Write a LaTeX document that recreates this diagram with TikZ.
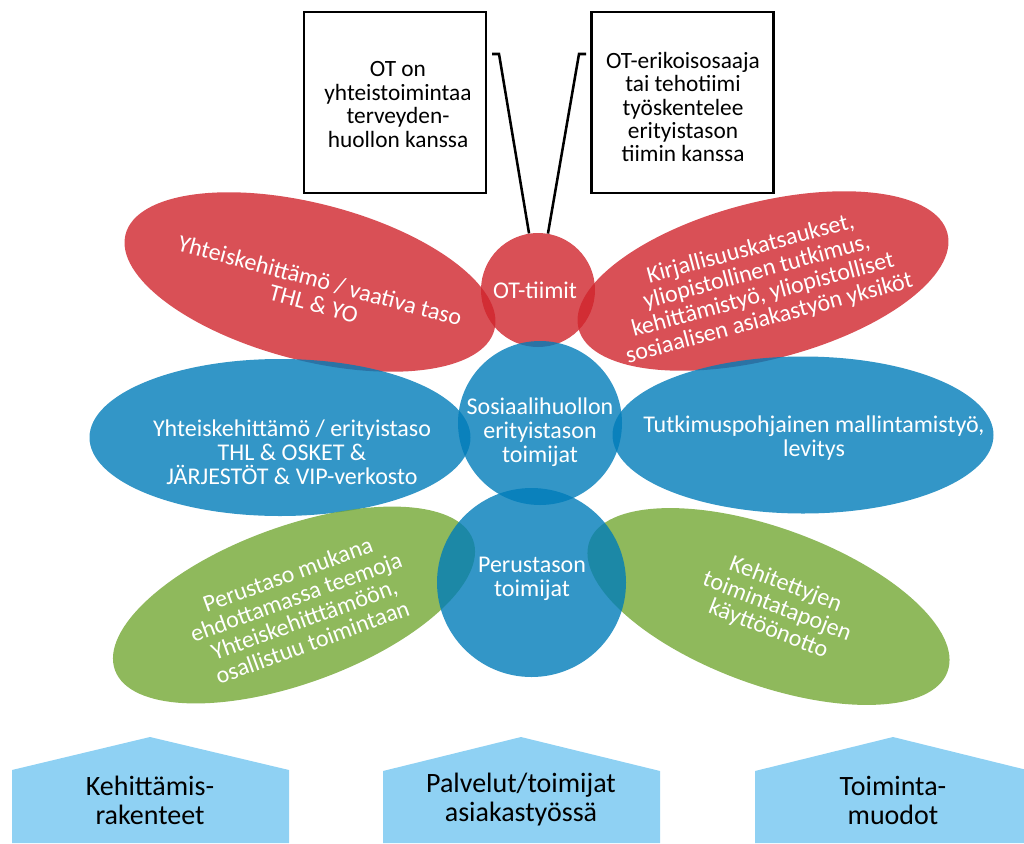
\documentclass[tikz,border=0pt]{standalone}
\usepackage{fontspec}
\setmainfont{Carlito}
\usetikzlibrary{shapes.geometric}

\definecolor{petalred}{RGB}{208,36,44}
\definecolor{petalblue}{RGB}{0,124,185}
\definecolor{petalgreen}{RGB}{115,167,51}
\definecolor{houseblue}{RGB}{143,209,243}

\begin{document}
\begin{tikzpicture}[x=0.75pt,y=-0.75pt,
  petal/.style={ellipse, draw=none, inner sep=0pt,
    minimum width=285.75pt, minimum height=117.75pt, fill opacity=0.8},
  hub/.style={circle, draw=none, inner sep=0pt, fill opacity=0.8},
  petaltext/.style={text=white, align=center, inner sep=0pt,
    font=\fontsize{18}{18}\selectfont},
  notebox/.style={draw=black, line width=1.9pt, fill=white,
    minimum width=136.5pt, minimum height=135.75pt, inner sep=0pt},
  notetext/.style={align=center, inner sep=0pt,
    font=\fontsize{17.5}{17.6}\selectfont},
  antenna/.style={draw=black, line width=1.9pt, line join=miter},
  house/.style={fill=houseblue, draw=none},
  housetext/.style={align=center, inner sep=0pt,
    font=\fontsize{21}{21.75}\selectfont}]

\useasboundingbox (0,0) rectangle (1024,843);
\clip (0,0) rectangle (1024,843);

% note boxes at the top
\node[notebox] (boxL) at (395,102.5) {};
\node[notebox] (boxR) at (682.5,102.5) {};
\node[notetext] (txtL) at (398,104.5) {OT on\\yhteistoimintaa\\terveyden-\\huollon kanssa};
\node[notetext] (txtR) at (683,107) {OT-erikoisosaaja\\tai tehotiimi\\työskentelee\\erityistason\\tiimin kanssa};

% outline of the top circle, used to attach the antennae
\node[circle, inner sep=0pt, minimum size=85.5pt] (ot) at (538,290) {};

% antennae from the boxes down to the top circle
\coordinate (aL0) at (492,54);
\coordinate (aL1) at (499,54);
\coordinate (aR0) at (586,54);
\coordinate (aR1) at (579,54);
\draw[antenna] (aL0) -- (aL1) -- (ot.99);
\draw[antenna] (aR0) -- (aR1) -- (ot.80);

% top circle
\node[hub, fill=petalred, minimum size=85.5pt] (otdisc) at (ot.center) {};

% red petals
\node[petal, fill=petalred, rotate=-14.5] (redL) at (310,282) {};
\node[petal, fill=petalred, rotate=14.5] (redR) at (763,281) {};

% blue petals
\node[petal, fill=petalblue] (blueL) at (280,437.5) {};
\node[petal, fill=petalblue] (blueR) at (803,435) {};

% green petals
\node[petal, fill=petalgreen, rotate=20] (greenL) at (294,605) {};
\node[petal, fill=petalgreen, rotate=-20] (greenR) at (768.5,606.5) {};

% middle and lower circles
\node[hub, fill=petalblue, minimum size=123pt] (mid) at (540,423) {};
\node[hub, fill=petalblue, minimum size=141.75pt] (base) at (531.5,582.5) {};

% labels
\node[petaltext] (tOT) at (535,290) {OT-tiimit};
\node[petaltext] (tMid) at (540,432) {Sosiaalihuollon\\erityistason\\toimijat};
\node[petaltext] (tBase) at (532,579) {Perustason\\toimijat};
\node[petaltext, rotate=-15] (tRedL) at (317,292) {Yhteiskehittämö / vaativa taso\\THL \& YO};
\node[petaltext, rotate=15] (tRedR) at (760,284) {Kirjallisuuskatsaukset,\\yliopistollinen tutkimus,\\kehittämistyö, yliopistolliset\\sosiaalisen asiakastyön yksiköt};
\node[petaltext] (tBlueL) at (292,452) {Yhteiskehittämö / erityistaso\\THL \& OSKET \&\\JÄRJESTÖT \& VIP-verkosto};
\node[petaltext] (tBlueR) at (814,438) {Tutkimuspohjainen mallintamistyö,\\levitys};
\node[petaltext, rotate=20] (tGreenL) at (300,608) {Perustaso mukana\\ehdottamassa teemoja\\Yhteiskehitttämöön,\\osallistuu toimintaan};
\node[petaltext, rotate=-21] (tGreenR) at (777,607) {Kehitettyjen\\toimintatapojen\\käyttöönotto};

% category houses along the bottom
\fill[house] (12,843) -- (12,770) -- (150,737) -- (289,770) -- (289,843) -- cycle;
\fill[house] (383,843) -- (383,771) -- (521,737) -- (660,771) -- (660,843) -- cycle;
\fill[house] (755,843) -- (755,771) -- (893,737) -- (1031,771) -- (1031,843) -- cycle;
\node[housetext] (hL) at (150,800) {Kehittämis-\\rakenteet};
\node[housetext] (hM) at (521,800) {Palvelut/toimijat\\asiakastyössä};
\node[housetext] (hR) at (893,800) {Toiminta-\\muodot};
\end{tikzpicture}
\end{document}
